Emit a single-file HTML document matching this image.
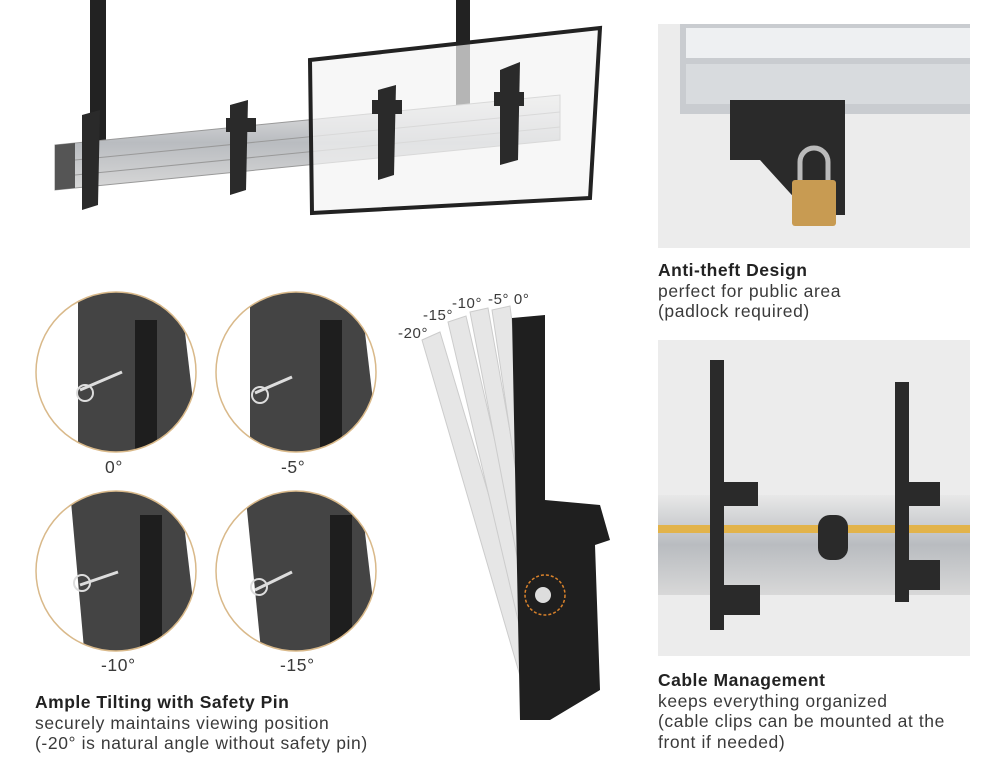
<!DOCTYPE html>
<html><head><meta charset="utf-8"><style>
body{margin:0;background:#fff;width:1000px;height:758px;overflow:hidden;position:relative;font-family:"Liberation Sans",sans-serif;color:#333}
.t{position:absolute;font-size:17.5px;line-height:20.5px;color:#3a3a3a;letter-spacing:0.6px;white-space:nowrap}
.t b{color:#222;font-weight:bold;letter-spacing:0.5px}
</style></head><body>
<svg width="1000" height="758" style="position:absolute;left:0;top:0">
<defs>
<clipPath id="c1"><circle cx="116" cy="372" r="80"/></clipPath>
<clipPath id="c2"><circle cx="296" cy="372" r="80"/></clipPath>
<clipPath id="c3"><circle cx="116" cy="571" r="80"/></clipPath>
<clipPath id="c4"><circle cx="296" cy="571" r="80"/></clipPath>
<linearGradient id="rail" x1="0" y1="0" x2="0" y2="1"><stop offset="0" stop-color="#e8e8e8"/><stop offset=".5" stop-color="#b9bcc0"/><stop offset="1" stop-color="#d8d8d8"/></linearGradient>
</defs>
<rect x="90" y="0" width="16" height="150" fill="#222"/>
<rect x="456" y="0" width="14" height="140" fill="#222"/>
<polygon points="55,145 560,95 560,140 55,190" fill="url(#rail)" stroke="#999"/>
<line x1="75" y1="160" x2="560" y2="112" stroke="#999"/>
<line x1="75" y1="175" x2="560" y2="127" stroke="#999"/>
<polygon points="55,145 75,143 75,188 55,190" fill="#555"/>
<polygon points="310,60 600,28 590,198 312,213" fill="#f3f3f3" fill-opacity=".7" stroke="#222" stroke-width="4"/>
<g fill="#2a2a2a">
<polygon points="82,115 100,110 98,205 82,210"/>
<polygon points="230,105 248,100 246,190 230,195"/>
<polygon points="378,90 396,85 394,175 378,180"/>
<polygon points="500,70 520,62 518,160 500,165"/>
<rect x="226" y="118" width="30" height="14"/>
<rect x="372" y="100" width="30" height="14"/>
<rect x="494" y="92" width="30" height="14"/>
</g>
<rect x="658" y="24" width="312" height="224" fill="#ececec"/>
<rect x="680" y="24" width="290" height="90" fill="#c9ccd0"/>
<rect x="686" y="28" width="284" height="30" fill="#eef0f2"/>
<rect x="686" y="64" width="284" height="40" fill="#d8dbde"/>
<polygon points="730,100 845,100 845,215 810,215 760,160 730,160" fill="#2a2a2a"/>
<path d="M800,182 v-20 a14,14 0 0 1 28,0 v20" fill="none" stroke="#bbb" stroke-width="5"/>
<rect x="792" y="180" width="44" height="46" rx="3" fill="#c89b52"/>
<rect x="658" y="340" width="312" height="316" fill="#ececec"/>
<rect x="658" y="495" width="312" height="100" fill="url(#rail)"/>
<rect x="658" y="525" width="312" height="8" fill="#e2b34a"/>
<g fill="#2a2a2a">
<rect x="710" y="360" width="14" height="270"/>
<rect x="895" y="382" width="14" height="220"/>
<rect x="718" y="482" width="40" height="24"/>
<rect x="905" y="482" width="35" height="24"/>
<rect x="818" y="515" width="30" height="45" rx="12"/>
<rect x="720" y="585" width="40" height="30"/>
<rect x="905" y="560" width="35" height="30"/>
</g>
<g clip-path="url(#c1)"><rect x="30" y="280" width="180" height="180" fill="#fff"/><polygon points="78,290 180,290 200,460 78,460" fill="#444"/><rect x="135" y="320" width="22" height="140" fill="#1e1e1e"/><line x1="80" y1="390" x2="122" y2="372" stroke="#ddd" stroke-width="3"/><circle cx="85" cy="393" r="8" fill="none" stroke="#ddd" stroke-width="2"/></g>
<g clip-path="url(#c2)"><rect x="210" y="280" width="180" height="180" fill="#fff"/><polygon points="250,290 360,290 380,460 250,460" fill="#444"/><rect x="320" y="320" width="22" height="140" fill="#1e1e1e"/><line x1="255" y1="393" x2="292" y2="377" stroke="#ddd" stroke-width="3"/><circle cx="260" cy="395" r="8" fill="none" stroke="#ddd" stroke-width="2"/></g>
<g clip-path="url(#c3)"><rect x="30" y="480" width="180" height="180" fill="#fff"/><polygon points="70,490 180,490 200,660 85,660" fill="#444"/><rect x="140" y="515" width="22" height="140" fill="#1e1e1e"/><line x1="80" y1="585" x2="118" y2="572" stroke="#ddd" stroke-width="3"/><circle cx="82" cy="583" r="8" fill="none" stroke="#ddd" stroke-width="2"/></g>
<g clip-path="url(#c4)"><rect x="210" y="480" width="180" height="180" fill="#fff"/><polygon points="245,490 360,490 380,660 262,660" fill="#444"/><rect x="330" y="515" width="22" height="140" fill="#1e1e1e"/><line x1="255" y1="590" x2="292" y2="572" stroke="#ddd" stroke-width="3"/><circle cx="259" cy="587" r="8" fill="none" stroke="#ddd" stroke-width="2"/></g>
<g fill="none" stroke="#d9b98a" stroke-width="1.5">
<circle cx="116" cy="372" r="80"/><circle cx="296" cy="372" r="80"/><circle cx="116" cy="571" r="80"/><circle cx="296" cy="571" r="80"/></g>
<g fill="#e6e6e6" stroke="#ccc">
<polygon points="422,340 440,332 550,700 530,710"/>
<polygon points="448,322 466,316 555,700 538,705"/>
<polygon points="470,312 488,308 558,700 545,702"/>
<polygon points="492,310 510,306 560,700 550,702"/>
</g>
<polygon points="512,318 545,315 545,500 600,505 610,540 595,545 600,690 575,705 550,720 520,720" fill="#1f1f1f"/>
<circle cx="545" cy="595" r="20" fill="none" stroke="#d9822b" stroke-width="1.5" stroke-dasharray="3,2"/>
<circle cx="543" cy="595" r="8" fill="#ddd"/>
</svg>
<div class="t" style="left:105px;top:457px">0°</div>
<div class="t" style="left:281px;top:457px">-5°</div>
<div class="t" style="left:101px;top:655px">-10°</div>
<div class="t" style="left:280px;top:655px">-15°</div>
<div class="t" style="left:398px;top:324px;font-size:15px">-20°</div>
<div class="t" style="left:423px;top:306px;font-size:15px">-15°</div>
<div class="t" style="left:452px;top:294px;font-size:15px">-10°</div>
<div class="t" style="left:488px;top:290px;font-size:15px">-5° 0°</div>
<div class="t" style="left:35px;top:692px"><b>Ample Tilting with Safety Pin</b><br>securely maintains viewing position<br>(-20° is natural angle without safety pin)</div>
<div class="t" style="left:658px;top:260px"><b>Anti-theft Design</b><br>perfect for public area<br>(padlock required)</div>
<div class="t" style="left:658px;top:670px"><b>Cable Management</b><br>keeps everything organized<br>(cable clips can be mounted at the<br>front if needed)</div>
</body></html>
